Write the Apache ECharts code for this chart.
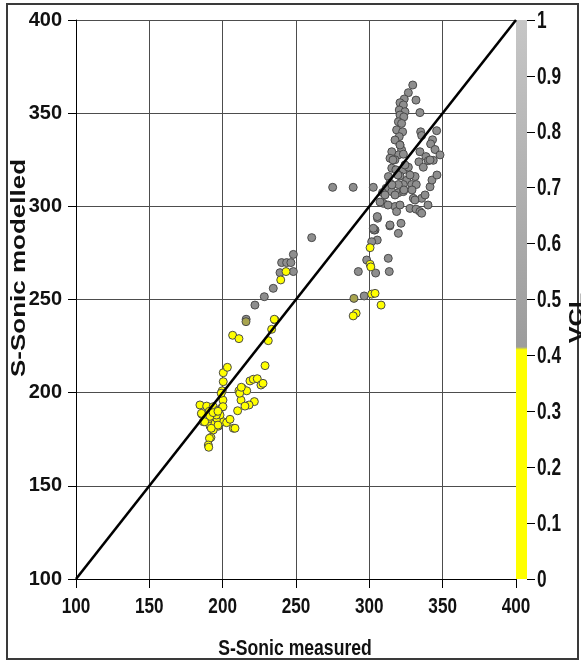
<!DOCTYPE html>
<html>
<head>
<meta charset="utf-8">
<script src="https://cdn.jsdelivr.net/npm/echarts@6/dist/echarts.min.js"></script>
<style>html,body{margin:0;padding:0;background:#fff}#c{width:581px;height:664px}</style>
</head>
<body>
<div id="c"></div>
<script>
// ---- data ----
const axisTicks = [100, 150, 200, 250, 300, 350, 400];
const vclTicks = [0, 0.1, 0.2, 0.3, 0.4, 0.5, 0.6, 0.7, 0.8, 0.9, 1];
const vclTickLabels = ['0', '0.1', '0.2', '0.3', '0.4', '0.5', '0.6', '0.7', '0.8', '0.9', '1'];
const vclCutoff = 0.41;
const refLineX = [100, 400];
const refLineY = [100, 400];
const xTitle = 'S-Sonic measured';
const yTitle = 'S-Sonic modelled';
const cbTitle = 'VCL';

// low-VCL points (yellow): [S-Sonic measured, S-Sonic modelled]
const yellowPts = [
  [206.8,230.8],[211.1,229],[235.7,239],[233.4,234],[231.1,227.9],
  [200.4,210.7],[203.2,213.6],[200.4,205.9],[199.7,201],
  [228.9,214.5],[218.6,206.3],[220.9,207.2],[223.6,207.5],[226.1,204.1],[227.5,205],
  [211.1,201],[213.6,202.3],[216.4,201],[212.5,196],[221.6,195.2],[218,193.4],[215.2,192.8],[210.2,190.3],
  [184.5,193.4],[189.1,192.8],[185.7,188.5],[190.9,190],[193.6,192.5],[197,190.7],[199.7,192.2],
  [186.8,184.4],[191.4,185.3],[191.4,182.1],[194.8,183.6],[197,182],[200.4,184.4],[202.7,183.9],[205,185.7],
  [207.3,180.9],[208.4,180.9],[192,176],[191,175.5],[190.2,171.9],[190.5,170.7],[193.6,180],[196,186.2],
  [198.2,188],[195.7,188],[191.3,187.3],[193.5,189.3],
  [200.2,196],[199,199.7],[200.2,192.5],[196.8,190],[196.8,182.6],[192.2,180.9],[187.7,184.4],[185.5,188.9],
  [211.6,199.7],[212.7,202.9],
  [300.5,277.8],[300.5,268.9],[301,267.5],[301.6,252.9],[303.9,253.3],[308,247],[291,242.6],[289,241.2],
  [239.6,260.5],[243.2,265],[235.2,239.4]
];
// transitional VCL points (olive)
const olivePts = [[215.9,238.1],[289.5,250.6]];
// high-VCL points (grey)
const greyPts = [
  [216,239.4],[222,247],[228.4,251.5],[234.5,256],[239.1,264.4],[240.2,269.8],[243.6,269.8],[246.5,269.8],
  [248.2,265],[248.2,274.2],[260.7,283.2],
  [275,310.2],[289,310.2],[302.7,310.2],[305.6,293.6],[303.9,287.3],[305.4,281.9],[301.6,281],[298.2,271.2],
  [292.5,265],[304.3,264.2],[313.6,265],[312.9,272.1],[314,289.5],[319.8,285.5],[296.5,251.9],[303.2,287.3],
  [329.6,365.1],[326.6,361],[323.8,357.6],[320.9,355.6],[331.8,357],[323.2,354.4],[320.4,351.7],[324.3,350.8],
  [334.5,350.3],[320.9,349],[323.5,348],[319.8,345.4],[322,344.5],[318.6,341],[322.7,340],[335,340],
  [345.9,340.6],[335.7,338],[320.4,337.4],[343.1,335.7],[341.8,333.5],[344.8,330.5],[320.9,333],[322,330.3],
  [319.8,327.6],[315.3,329.3],[314.1,325.8],[317.5,325],[323.2,328],[334.5,329.3],[338.6,326.7],[340.2,324.5],
  [343.6,324.7],[333.8,323.9],[336.8,321],[315.3,320.5],[318.1,319.6],[323.2,319.6],[326.6,321],[320.9,316.3],
  [313,316],[331.2,316],[325.5,314],[328.9,311.7],[332,311.7],[323.2,311.7],[319.8,311.7],[314,312.5],
  [311.4,309.7],[341.4,310.5],[309,307.4],[315.3,307.9],[319.8,307.3],[323.2,307.9],[330,304.3],[335.7,304.3],
  [309.5,301.6],[307.3,302.3],[317.5,299.9],[318.6,297.2],[327.7,298.9],[331.8,298.5],[334.5,297.2],[335.7,296.3],
  [305.4,294.5],[314.1,290],[321.6,290.9],[302.7,288.2],
  [317.5,335.6],[320.9,332.9],[316.1,324.9],[324.3,322.2],[319.5,316.8],[315.4,311.5],[327.7,316.8],[323.6,308.8],
  [317.5,306.1],[310.7,306.1],[312.7,300.7],[320.9,300.7],[329.1,308.8],[331.1,303.4],[338,306.1],[340,300.7],
  [342.7,314.1],[348.2,327.6],[346.1,316.8],[341.4,324.9]
];

// ---- chart ----
const FONT = "'Liberation Sans',Arial,sans-serif";
const chart = echarts.init(document.getElementById('c'), null, {renderer: 'canvas'});

const barStops = [
  {offset: 0, color: '#c6c6c6'},
  {offset: 1 - vclCutoff - 0.005, color: '#9c9c9c'},
  {offset: 1 - vclCutoff, color: '#ffff00'},
  {offset: 1, color: '#ffff00'}
];

const ptStyle = (fill) => ({color: fill, borderColor: '#4a4a4a', borderWidth: 1, opacity: 1});

chart.setOption({
  animation: false,
  backgroundColor: '#fff',
  grid: [
    {left: 76, top: 20, width: 440, height: 559, containLabel: false, outerBoundsMode: 'none'},
    {left: 516, top: 20, width: 11, height: 559, containLabel: false, outerBoundsMode: 'none'}
  ],
  xAxis: [
    {
      gridIndex: 0, type: 'value', min: axisTicks[0], max: axisTicks[axisTicks.length - 1], interval: 50,
      axisLine: {show: true, onZero: false, lineStyle: {color: '#000', width: 1}},
      axisTick: {show: true, length: 9, lineStyle: {color: '#000'}},
      axisLabel: {show: false},
      splitLine: {show: true, lineStyle: {color: '#4d4d4d', width: 1}}
    },
    {gridIndex: 1, type: 'category', data: [cbTitle], show: false}
  ],
  yAxis: [
    {
      gridIndex: 0, type: 'value', min: axisTicks[0], max: axisTicks[axisTicks.length - 1], interval: 50,
      axisLine: {show: true, onZero: false, lineStyle: {color: '#000', width: 1}},
      axisTick: {show: true, length: 8, lineStyle: {color: '#000'}},
      axisLabel: {margin: 14, fontFamily: FONT, fontWeight: 'bold', fontSize: 20, color: '#111'},
      splitLine: {show: true, lineStyle: {color: '#4d4d4d', width: 1}}
    },
    {
      gridIndex: 1, type: 'value', min: vclTicks[0], max: vclTicks[vclTicks.length - 1], interval: 0.1,
      position: 'right',
      axisLine: {show: false},
      axisTick: {show: true, length: 8, lineStyle: {color: '#000'}},
      axisLabel: {show: false},
      splitLine: {show: false}
    }
  ],
  series: [
    {type: 'scatter', xAxisIndex: 0, yAxisIndex: 0, data: greyPts, symbolSize: 8, itemStyle: ptStyle('#8e8e8e'), z: 2},
    {type: 'scatter', xAxisIndex: 0, yAxisIndex: 0, data: olivePts, symbolSize: 8, itemStyle: ptStyle('#a8a44e'), z: 2},
    {type: 'scatter', xAxisIndex: 0, yAxisIndex: 0, data: yellowPts, symbolSize: 8, itemStyle: ptStyle('#ffff00'), z: 3},
    {type: 'line', xAxisIndex: 0, yAxisIndex: 0, data: refLineX.map((x, i) => [x, refLineY[i]]),
      symbol: 'none', lineStyle: {color: '#000', width: 2.6}, z: 5, silent: true},
    {type: 'bar', xAxisIndex: 1, yAxisIndex: 1, data: [vclTicks[vclTicks.length - 1]], barWidth: '100%',
      itemStyle: {color: new echarts.graphic.LinearGradient(0, 0, 0, 1, barStops)}, silent: true}
  ]
});

// condensed text labels positioned through the axes' own scales
const g = [];
g.push({type: 'rect', shape: {x: 7, y: 4, width: 571, height: 655}, style: {fill: 'none', stroke: '#3a3a3a', lineWidth: 2}, silent: true, z: -1});
const xAxisY = chart.convertToPixel({yAxisIndex: 0}, axisTicks[0]);
axisTicks.forEach((v) => {
  const px = chart.convertToPixel({xAxisIndex: 0}, v);
  g.push({type: 'text', x: px, y: xAxisY + 28, scaleX: 0.78, silent: true,
    style: {text: String(v), fontFamily: FONT, fontWeight: 'bold', fontSize: 22, fill: '#111', align: 'center', verticalAlign: 'middle'}});
});
vclTicks.forEach((v, i) => {
  const py = chart.convertToPixel({yAxisIndex: 1}, v);
  g.push({type: 'text', x: 537, y: py + 1, scaleX: 0.72, silent: true,
    style: {text: vclTickLabels[i], fontFamily: FONT, fontWeight: 'bold', fontSize: 24, fill: '#111', align: 'left', verticalAlign: 'middle'}});
});
g.push({type: 'text', x: 295, y: 649, scaleX: 0.8, silent: true,
  style: {text: xTitle, fontFamily: FONT, fontWeight: 'bold', fontSize: 22, fill: '#111', align: 'center', verticalAlign: 'middle'}});
g.push({type: 'text', x: 19, y: 268, rotation: Math.PI / 2, scaleX: 1.3, silent: true,
  style: {text: yTitle, fontFamily: FONT, fontWeight: 'bold', fontSize: 20, fill: '#111', align: 'center', verticalAlign: 'middle'}});
g.push({type: 'text', x: 577, y: 318, rotation: Math.PI / 2, scaleX: 1.2, silent: true,
  style: {text: cbTitle, fontFamily: FONT, fontWeight: 'bold', fontSize: 21, fill: '#111', align: 'center', verticalAlign: 'middle'}});
chart.setOption({graphic: g});
</script>
</body>
</html>
